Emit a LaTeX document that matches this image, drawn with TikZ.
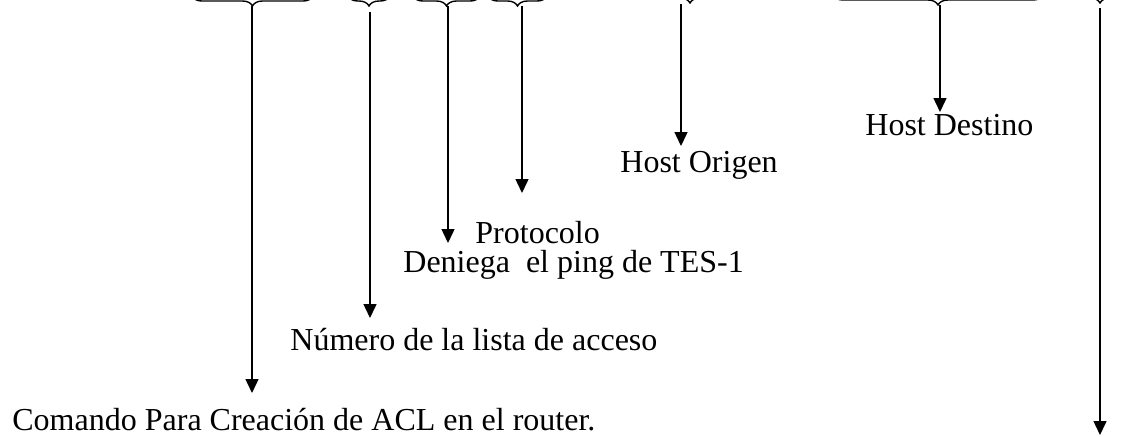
\documentclass[tikz,border=0pt]{standalone}
\usepackage{fontspec}
\setmainfont{Liberation Serif}
\usetikzlibrary{arrows.meta, decorations.pathreplacing}

\begin{document}
\begin{tikzpicture}[x=0.5pt, y=-0.5pt, >={Triangle[length=7pt, width=6.5pt]},
    brc/.style={decorate, decoration={brace, amplitude=5pt}, line width=0.7pt},
    arr/.style={->, line width=0.7pt},
    lbl/.style={anchor=base west, inner sep=0pt, font=\fontsize{16}{19}\selectfont}]
    \useasboundingbox (0,0) rectangle (1145,436);
    % llaves, cortadas por arriba
    \draw[brc] (313,-4) -- (192,-4);
    \draw[brc] (390,-4) -- (348,-4);
    \draw[brc] (480,-4) -- (413,-4);
    \draw[brc] (547,-4) -- (488,-4);
    \draw[brc] (720,-7) -- (660,-7);
    \draw[brc] (1043,-5) -- (833,-5);
    \draw[brc] (1120,-7) -- (1080,-7);
    % textos
    \node[lbl] (cmd) at (12,430) {Comando Para Creación de ACL en el router.};
    \node[lbl] (num) at (290,350) {Número de la lista de acceso};
    \node[lbl] (den) at (403,272) {Deniega\ \ el ping de TES-1};
    \node[lbl] (prot) at (475,243) {Protocolo};
    \node[lbl] (hor) at (620,172) {Host Origen};
    \node[lbl] (hde) at (865,135) {Host Destino};
    % flechas
    \coordinate (t1) at (252,6);  \coordinate (e1) at (252,393);
    \coordinate (t2) at (370,12); \coordinate (e2) at (370,318);
    \coordinate (t3) at (448,6);  \coordinate (e3) at (448,243);
    \coordinate (t4) at (522,6);  \coordinate (e4) at (522,193);
    \coordinate (t5) at (681,4);  \coordinate (e5) at (681,146);
    \coordinate (t6) at (940,5);  \coordinate (e6) at (940,112);
    \coordinate (t7) at (1100,8); \coordinate (e7) at (1100,435);
    \foreach \i in {1,...,7}
        \draw[arr] (t\i) -- (e\i);
\end{tikzpicture}
\end{document}
